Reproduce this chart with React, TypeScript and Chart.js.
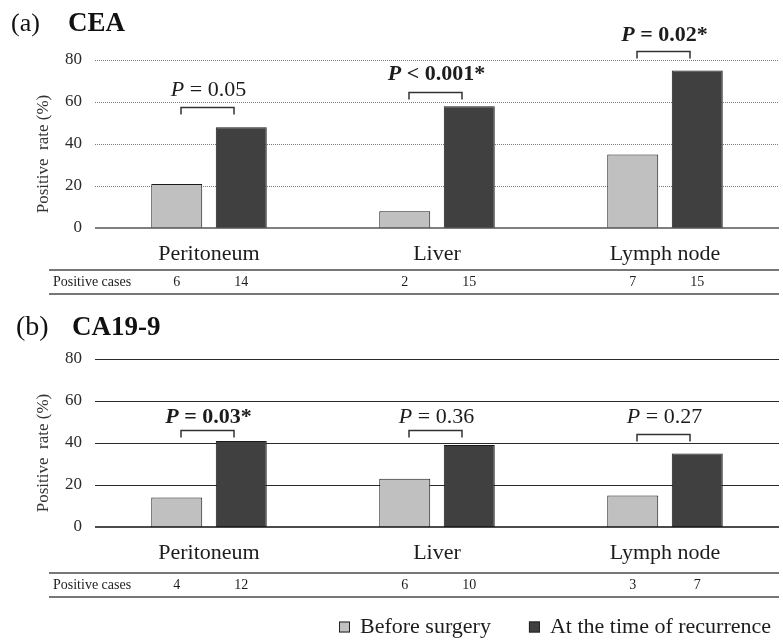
import React, { useEffect, useRef } from 'react';
import { Chart, registerables } from 'chart.js';

Chart.register(...registerables);

// ---------- data ----------
const categories = ['Peritoneum', 'Liver', 'Lymph node'];
const seriesLabels = ['Before surgery', 'At the time of recurrence'];
const yTicks = [0, 20, 40, 60, 80];

const ceaBefore = [21, 8, 35];
const ceaRecurrence = [48, 58, 75];
const ceaCasesBefore = [6, 2, 7];
const ceaCasesRecurrence = [14, 15, 15];
const ceaPOperators = ['=', '<', '='];
const ceaPValues = ['0.05', '0.001*', '0.02*'];
const ceaSignificant = [false, true, true];

const ca199Before = [14, 23, 15];
const ca199Recurrence = [41, 39, 35];
const ca199CasesBefore = [4, 6, 3];
const ca199CasesRecurrence = [12, 10, 7];
const ca199POperators = ['=', '=', '='];
const ca199PValues = ['0.03*', '0.36', '0.27'];
const ca199Significant = [true, false, false];

// ---------- annotation layout (value units) ----------
const ceaBracketLevels = [57.6, 64.8, 84.3];
const ceaLabelLevels = [65.7, 73.3, 91.7];
const ca199BracketLevels = [46.2, 46.2, 44.3];
const ca199LabelLevels = [52.1, 52.1, 52.1];

const FONT = "'Liberation Serif', 'Times New Roman', Times, serif";
const TEXT = '#1c1c1c';
const GRAY = '#c0c0c0';
const DARK = '#404040';

type Spec = {
  tag: string;
  name: string;
  tagX: number;
  nameX: number;
  titleBaseline: number;
  tagSize: number;
  before: number[];
  recur: number[];
  casesBefore: number[];
  casesRecur: number[];
  ops: string[];
  pvals: string[];
  sig: boolean[];
  bracketLevels: number[];
  labelLevels: number[];
  dotted: boolean;
  height: number;
  top: number;
  bottomPad: number;
  tableTop: number;
  tableBottom: number;
  legend: boolean;
};

function drawP(ctx: CanvasRenderingContext2D, cx: number, cy: number, op: string, val: string, bold: boolean) {
  const b = bold ? 'bold ' : '';
  const f1 = `italic ${b}22px ${FONT}`;
  const f2 = `${b}22px ${FONT}`;
  const t1 = 'P';
  const t2 = ` ${op} ${val}`;
  ctx.font = f1;
  const w1 = ctx.measureText(t1).width;
  ctx.font = f2;
  const w2 = ctx.measureText(t2).width;
  let x = cx - (w1 + w2) / 2;
  ctx.textBaseline = 'middle';
  ctx.textAlign = 'left';
  ctx.fillStyle = TEXT;
  ctx.font = f1;
  ctx.fillText(t1, x, cy);
  x += w1;
  ctx.font = f2;
  ctx.fillText(t2, x, cy);
}

function makeDecor(spec: Spec) {
  return {
    id: 'decor',
    beforeDatasetsDraw(chart: any) {
      const { ctx, chartArea } = chart;
      const y = chart.scales.y;
      ctx.save();
      y.ticks.forEach((t: any) => {
        if (t.value === 0) return;
        const py = Math.round(y.getPixelForValue(t.value)) + 0.5;
        ctx.beginPath();
        ctx.strokeStyle = spec.dotted ? '#7a7a7a' : '#2a2a2a';
        ctx.lineWidth = 1;
        ctx.setLineDash(spec.dotted ? [1, 1] : []);
        ctx.moveTo(chartArea.left, py);
        ctx.lineTo(chartArea.right, py);
        ctx.stroke();
      });
      ctx.restore();
    },
    afterDatasetsDraw(chart: any) {
      const { ctx, chartArea } = chart;
      const y = chart.scales.y;
      const x = chart.scales.x;
      const m0 = chart.getDatasetMeta(0);
      const m1 = chart.getDatasetMeta(1);
      ctx.save();
      // zero line
      const y0 = y.getPixelForValue(0);
      ctx.beginPath();
      ctx.strokeStyle = spec.dotted ? '#555' : '#111';
      ctx.lineWidth = 1.5;
      ctx.moveTo(chartArea.left, y0);
      ctx.lineTo(chartArea.right, y0);
      ctx.stroke();

      // brackets and P values
      categories.forEach((_, i) => {
        const cx = x.getPixelForValue(i) - 1.5;
        const half = 26.5;
        const top = Math.round(y.getPixelForValue(spec.bracketLevels[i])) + 0.5;
        const bot = top + 7;
        ctx.beginPath();
        ctx.strokeStyle = '#333';
        ctx.lineWidth = 1.5;
        ctx.moveTo(cx - half, bot);
        ctx.lineTo(cx - half, top);
        ctx.lineTo(cx + half, top);
        ctx.lineTo(cx + half, bot);
        ctx.stroke();
        drawP(ctx, cx + 1, y.getPixelForValue(spec.labelLevels[i]), spec.ops[i], spec.pvals[i], spec.sig[i]);
      });

      // table
      const yb = chartArea.bottom;
      const tTop = yb + spec.tableTop;
      const tBot = yb + spec.tableBottom;
      ctx.strokeStyle = '#777';
      ctx.lineWidth = 2;
      [tTop, tBot].forEach((ly) => {
        ctx.beginPath();
        ctx.moveTo(49, ly);
        ctx.lineTo(chartArea.right, ly);
        ctx.stroke();
      });
      ctx.fillStyle = TEXT;
      ctx.font = `14px ${FONT}`;
      ctx.textBaseline = 'middle';
      ctx.textAlign = 'left';
      const rowY = (tTop + tBot) / 2;
      ctx.fillText('Positive cases', 53, rowY);
      ctx.textAlign = 'center';
      categories.forEach((_, i) => {
        ctx.fillText(String(spec.casesBefore[i]), m0.data[i].x, rowY);
        ctx.fillText(String(spec.casesRecur[i]), m1.data[i].x, rowY);
      });

      // y axis title
      ctx.save();
      ctx.translate(44, (chartArea.top + chartArea.bottom) / 2 + 10);
      ctx.rotate(-Math.PI / 2);
      ctx.font = `17px ${FONT}`;
      ctx.textAlign = 'center';
      ctx.textBaseline = 'middle';
      ctx.fillStyle = '#333';
      ctx.fillText('Positive  rate (%)', 0, 0);
      ctx.restore();

      // panel title
      ctx.textAlign = 'left';
      ctx.textBaseline = 'alphabetic';
      ctx.fillStyle = '#111';
      ctx.font = `${spec.tagSize}px ${FONT}`;
      ctx.fillText(spec.tag, spec.tagX, spec.titleBaseline);
      ctx.font = `bold 27px ${FONT}`;
      ctx.fillText(spec.name, spec.nameX, spec.titleBaseline);

      // legend
      if (spec.legend) {
        let lx = 339;
        const sq = 11;
        const ly = chart.height - 16;
        ctx.font = `22px ${FONT}`;
        ctx.textBaseline = 'middle';
        chart.data.datasets.forEach((ds: any) => {
          ctx.fillStyle = ds.backgroundColor;
          ctx.fillRect(lx, ly - sq / 2, sq, sq);
          ctx.strokeStyle = '#222';
          ctx.lineWidth = 1;
          ctx.strokeRect(lx + 0.5, ly - sq / 2 + 0.5, sq - 1, sq - 1);
          ctx.fillStyle = TEXT;
          ctx.fillText(ds.label, lx + sq + 10, ly);
          lx += sq + 10 + ctx.measureText(ds.label).width + 38;
        });
      }
      ctx.restore();
    },
  };
}

function makeConfig(spec: Spec): any {
  return {
    type: 'bar',
    data: {
      labels: categories,
      datasets: [
        {
          label: seriesLabels[0],
          data: spec.before,
          backgroundColor: GRAY,
          borderColor: '#1a1a1a',
          borderWidth: 1,
          categoryPercentage: 0.566,
          barPercentage: 0.79,
        },
        {
          label: seriesLabels[1],
          data: spec.recur,
          backgroundColor: DARK,
          borderColor: '#1a1a1a',
          borderWidth: 1,
          categoryPercentage: 0.566,
          barPercentage: 0.79,
        },
      ],
    },
    options: {
      responsive: false,
      animation: false,
      devicePixelRatio: 1,
      layout: { padding: { left: 0, right: 4, top: spec.top, bottom: spec.bottomPad } },
      plugins: { legend: { display: false }, tooltip: { enabled: false }, title: { display: false } },
      scales: {
        x: {
          type: 'category',
          grid: { display: false, drawTicks: false },
          border: { display: false },
          ticks: {
            color: TEXT,
            font: { family: FONT, size: 22 },
            padding: 13,
            maxRotation: 0,
            autoSkip: false,
          },
          afterFit: (s: any) => {
            s.height = 72;
          },
        },
        y: {
          min: yTicks[0],
          max: yTicks[yTicks.length - 1],
          grid: { display: false, drawTicks: false },
          border: { display: false },
          afterBuildTicks: (s: any) => {
            s.ticks = yTicks.map((v) => ({ value: v }));
          },
          ticks: {
            color: '#2a2a2a',
            font: { family: FONT, size: 17 },
            padding: 13,
          },
          afterFit: (s: any) => {
            s.width = 95;
          },
        },
      },
    },
    plugins: [makeDecor(spec)],
  };
}

const specA: Spec = {
  tag: '(a)',
  name: 'CEA',
  tagX: 11,
  nameX: 68,
  titleBaseline: 31,
  tagSize: 26,
  before: ceaBefore,
  recur: ceaRecurrence,
  casesBefore: ceaCasesBefore,
  casesRecur: ceaCasesRecurrence,
  ops: ceaPOperators,
  pvals: ceaPValues,
  sig: ceaSignificant,
  bracketLevels: ceaBracketLevels,
  labelLevels: ceaLabelLevels,
  dotted: true,
  height: 300,
  top: 60,
  bottomPad: 0,
  tableTop: 42,
  tableBottom: 66,
  legend: false,
};

const specB: Spec = {
  tag: '(b)',
  name: 'CA19-9',
  tagX: 16,
  nameX: 72,
  titleBaseline: 35,
  tagSize: 28,
  before: ca199Before,
  recur: ca199Recurrence,
  casesBefore: ca199CasesBefore,
  casesRecur: ca199CasesRecurrence,
  ops: ca199POperators,
  pvals: ca199PValues,
  sig: ca199Significant,
  bracketLevels: ca199BracketLevels,
  labelLevels: ca199LabelLevels,
  dotted: false,
  height: 343,
  top: 59,
  bottomPad: 44,
  tableTop: 46,
  tableBottom: 70,
  legend: true,
};

function Panel({ spec, top }: { spec: Spec; top: number }) {
  const ref = useRef<HTMLCanvasElement | null>(null);
  useEffect(() => {
    if (!ref.current) return;
    const chart = new Chart(ref.current, makeConfig(spec));
    return () => chart.destroy();
  }, [spec]);
  return (
    <canvas
      ref={ref}
      width={783}
      height={spec.height}
      style={{ position: 'absolute', left: 0, top, width: 783, height: spec.height, display: 'block' }}
    />
  );
}

export default function App() {
  return (
    <div style={{ position: 'fixed', left: 0, top: 0, width: 783, height: 643, background: '#fff' }}>
      <Panel spec={specA} top={0} />
      <Panel spec={specB} top={300} />
    </div>
  );
}
